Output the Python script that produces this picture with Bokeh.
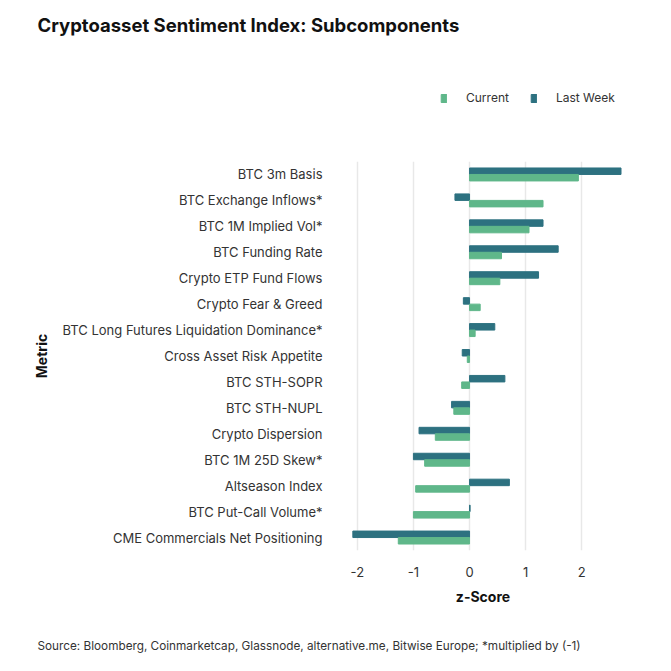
from bokeh.plotting import figure
from bokeh.layouts import column
from bokeh.models import (FactorRange, Range1d, Legend, LegendItem, Title,
                          FixedTicker, ColumnDataSource)
from bokeh.transform import dodge
from bokeh.core.validation import silence
from bokeh.core.validation.warnings import MISSING_RENDERERS
from bokeh.embed import file_html
from bokeh.resources import INLINE

# Metrics, listed top to bottom
metrics = [
    "BTC 3m Basis",
    "BTC Exchange Inflows*",
    "BTC 1M Implied Vol*",
    "BTC Funding Rate",
    "Crypto ETP Fund Flows",
    "Crypto Fear & Greed",
    "BTC Long Futures Liquidation Dominance*",
    "Cross Asset Risk Appetite",
    "BTC STH-SOPR",
    "BTC STH-NUPL",
    "Crypto Dispersion",
    "BTC 1M 25D Skew*",
    "Altseason Index",
    "BTC Put-Call Volume*",
    "CME Commercials Net Positioning",
]
current = [1.94, 1.31, 1.06, 0.57, 0.54, 0.19, 0.10, -0.04, -0.14, -0.28,
           -0.61, -0.80, -0.96, -1.00, -1.27]
last_week = [2.70, -0.26, 1.31, 1.58, 1.23, -0.11, 0.45, -0.13, 0.63, -0.32,
             -0.90, -1.00, 0.71, 0.01, -2.08]
x_ticks = [-2, -1, 0, 1, 2]
x_tick_labels = {t: str(t) for t in x_ticks}

CUR_COLOR = "#5fb78a"
LW_COLOR = "#2d7180"
FONT = "Inter"
TEXT = "#333333"
W = 671
HEAD_H = 150
FOOT_H = 50
MAIN_H = 671 - HEAD_H - FOOT_H
FRAME_LEFT = 340
FRAME_RIGHT_BORDER = 46

silence(MISSING_RENDERERS, True)


def strip(height):
    """A bare figure used to hold text above or below the chart."""
    f = figure(width=W, height=height, x_range=Range1d(0, 1), y_range=Range1d(0, 1),
               x_axis_type=None, y_axis_type=None, output_backend="svg",
               toolbar_location=None, min_border=0, min_border_left=FRAME_LEFT,
               min_border_right=FRAME_RIGHT_BORDER)
    f.outline_line_color = None
    f.grid.visible = False
    return f


# ---- header: title and legend ----
head = strip(HEAD_H)
# title (nearest the frame) and a thin spacer above it
head.add_layout(Title(text="Cryptoasset Sentiment Index: Subcomponents", align="left",
                      offset=37 - FRAME_LEFT, standoff=10,
                      text_font=FONT, text_font_size="18.5px", text_font_style="bold",
                      text_color="#111111"), "above")
head.add_layout(Title(text=" ", text_font_size="1px", standoff=3), "above")

# legend keys: renderers that never fall inside the header frame
nan = float("nan")
key_src = ColumnDataSource(dict(y=[nan], right=[nan]))
key_cur = head.hbar(y="y", right="right", height=1, color=CUR_COLOR, source=key_src)
key_lw = head.hbar(y="y", right="right", height=1, color=LW_COLOR, source=key_src)
head.add_layout(Legend(
    items=[LegendItem(label="Current", renderers=[key_cur]),
           LegendItem(label="Last Week", renderers=[key_lw])],
    orientation="horizontal", location=(440 - FRAME_LEFT, HEAD_H - 105),
    glyph_width=7, glyph_height=10, label_height=12, label_standoff=19, spacing=21,
    padding=0, margin=0, border_line_color=None, background_fill_alpha=0,
    label_text_font=FONT, label_text_font_size="12px", label_text_color=TEXT,
))

# ---- main chart ----
p = figure(
    width=W, height=MAIN_H,
    y_range=FactorRange(factors=list(reversed(metrics))),
    x_range=Range1d(-2.3, 2.78),
    output_backend="svg", toolbar_location=None,
    min_border_left=FRAME_LEFT, min_border_right=FRAME_RIGHT_BORDER,
    min_border_top=161 - HEAD_H, min_border_bottom=671 - FOOT_H - 550,
)
p.outline_line_color = None

src = ColumnDataSource(dict(metric=metrics, current=current, last_week=last_week))
p.hbar(y=dodge("metric", 0.125, range=p.y_range), right="last_week", left=0,
       height=0.25, color=LW_COLOR, source=src)
p.hbar(y=dodge("metric", -0.125, range=p.y_range), right="current", left=0,
       height=0.25, color=CUR_COLOR, source=src)

p.xaxis.ticker = FixedTicker(ticks=x_ticks)
p.xaxis.major_label_overrides = x_tick_labels
p.xaxis.axis_line_color = None
p.xaxis.major_tick_line_color = None
p.xaxis.minor_tick_line_color = None
p.xaxis.major_label_text_font = FONT
p.xaxis.major_label_text_font_size = "13px"
p.xaxis.major_label_text_color = TEXT
p.xaxis.major_label_standoff = 10
p.xaxis.axis_label = "z-Score"
p.xaxis.axis_label_text_font = FONT
p.xaxis.axis_label_text_font_size = "14px"
p.xaxis.axis_label_text_font_style = "bold"
p.xaxis.axis_label_text_color = "#111111"
p.xaxis.axis_label_standoff = 8

p.yaxis.axis_line_color = None
p.yaxis.major_tick_line_color = None
p.yaxis.minor_tick_line_color = None
p.yaxis.major_label_text_font = FONT
p.yaxis.major_label_text_font_size = "13px"
p.yaxis.major_label_text_color = TEXT
p.yaxis.major_label_standoff = 12
p.yaxis.axis_label = "Metric"
p.yaxis.axis_label_text_font = FONT
p.yaxis.axis_label_text_font_size = "14px"
p.yaxis.axis_label_text_font_style = "bold"
p.yaxis.axis_label_text_color = "#111111"
p.yaxis.axis_label_standoff = 10

p.ygrid.grid_line_color = None
p.xgrid.grid_line_color = "#e8e8e8"
p.xgrid.grid_line_width = 1.5

# ---- footer: source note ----
foot = strip(FOOT_H)
foot.add_layout(Title(text="Source: Bloomberg, Coinmarketcap, Glassnode, alternative.me, "
                           "Bitwise Europe; *multiplied by (-1)",
                      align="left", offset=37 - FRAME_LEFT, standoff=5,
                      text_font=FONT, text_font_size="11.75px", text_font_style="normal",
                      text_color=TEXT), "above")
foot.add_layout(Title(text=" ", text_font_size="1px", standoff=10), "above")

layout = column(head, p, foot, spacing=0)
open("out.html", "w").write(file_html(layout, INLINE))
